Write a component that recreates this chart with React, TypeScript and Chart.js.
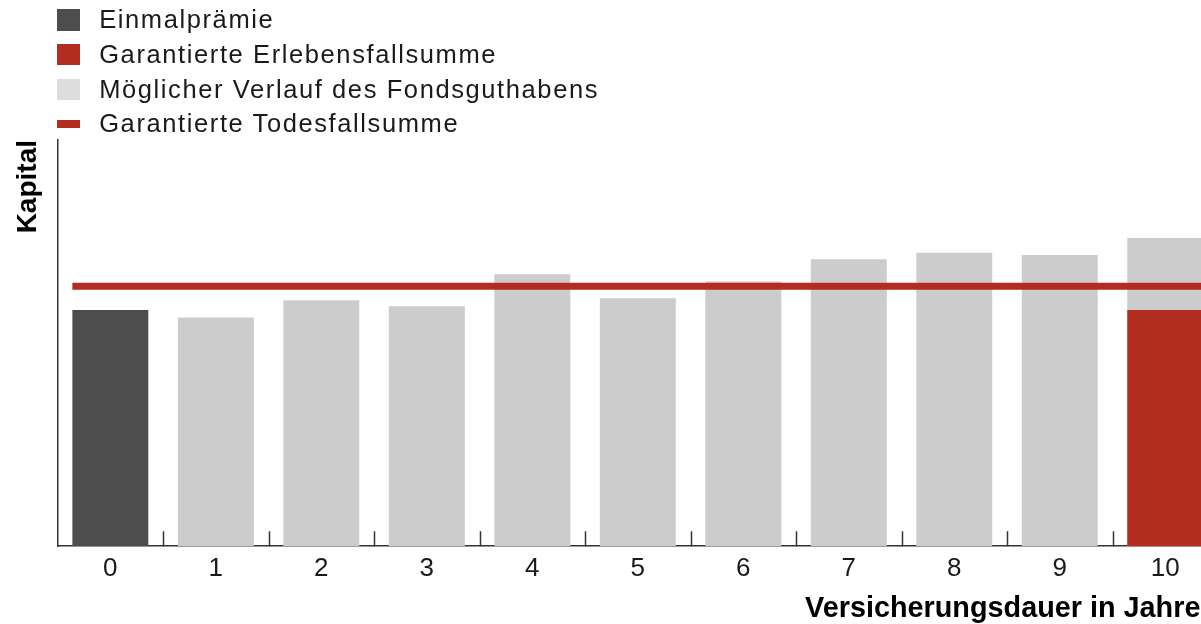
import React, { useEffect, useRef } from 'react';
import { Chart, registerables } from 'chart.js';

Chart.register(...registerables);

// ---- data ----
const years = ['0', '1', '2', '3', '4', '5', '6', '7', '8', '9', '10'];
const einmalpraemie = [100, null, null, null, null, null, null, null, null, null, null];
const erlebensfallsumme = [null, null, null, null, null, null, null, null, null, null, 100];
const fondsguthaben = [null, 96.9, 104.2, 101.6, 115.2, 105.0, 112.1, 121.5, 124.3, 123.3, 130.5];
const todesfallsumme = 110.1;
const yMax = 172;

const seriesLabels = [
  'Einmalprämie',
  'Garantierte Erlebensfallsumme',
  'Möglicher Verlauf des Fondsguthabens',
  'Garantierte Todesfallsumme',
];

// ---- styles ----
const DARK = '#4d4d4d';
const RED = '#b22d1f';
const GRAY = '#cccccc';
const GRAY_LEGEND = '#dddddd';
const AXIS = '#333333';
const TEXT = '#1a1a1a';
const FONT = '"Liberation Sans", Arial, Helvetica, sans-serif';
const BAR_PCT = 0.72;

const betweenTicks = {
  id: 'betweenTicks',
  afterDraw(chart: any) {
    const x = chart.scales.x;
    const y = chart.scales.y;
    const ctx = chart.ctx;
    const n = x.ticks.length;
    ctx.save();
    ctx.strokeStyle = AXIS;
    ctx.lineWidth = 1.5;
    for (let i = 0; i < n; i++) {
      const a = x.getPixelForTick(i);
      const b = i + 1 < n ? x.getPixelForTick(i + 1) : a + (a - x.getPixelForTick(i - 1));
      const px = Math.round((a + b) / 2) + 0.5;
      ctx.beginPath();
      ctx.moveTo(px, y.bottom);
      ctx.lineTo(px, y.bottom - 15);
      ctx.stroke();
    }
    ctx.restore();
  },
};

export default function App() {
  const ref = useRef<HTMLCanvasElement>(null);

  useEffect(() => {
    const half = BAR_PCT / 2;
    const chart = new Chart(ref.current as HTMLCanvasElement, {
      type: 'bar',
      data: {
        labels: years,
        datasets: [
          {
            type: 'line',
            label: seriesLabels[3],
            data: [
              { x: -half, y: todesfallsumme },
              { x: years.length - 1 + half, y: todesfallsumme },
            ],
            xAxisID: 'xl',
            borderColor: RED,
            backgroundColor: RED,
            borderWidth: 7,
            pointRadius: 0,
            order: 0,
          } as any,
          {
            label: seriesLabels[1],
            data: erlebensfallsumme,
            backgroundColor: RED,
            order: 1,
          },
          {
            label: seriesLabels[0],
            data: einmalpraemie,
            backgroundColor: DARK,
            order: 2,
          },
          {
            label: seriesLabels[2],
            data: fondsguthaben,
            backgroundColor: GRAY,
            order: 3,
          },
        ],
      },
      options: {
        responsive: false,
        animation: false,
        datasets: {
          bar: {
            grouped: false,
            barPercentage: BAR_PCT,
            categoryPercentage: 1,
          },
        },
        layout: { padding: { left: 7, top: 140, right: 6, bottom: -3 } },
        plugins: {
          legend: { display: false },
          tooltip: { enabled: false },
        },
        scales: {
          x: {
            type: 'category',
            offset: true,
            grid: { display: false, drawTicks: false },
            border: { display: true, color: AXIS, width: 1.5 },
            ticks: {
              color: TEXT,
              padding: 7,
              font: { family: FONT, size: 26 },
            },
            title: {
              display: true,
              text: 'Versicherungsdauer in Jahren',
              align: 'end',
              color: '#000',
              padding: { top: 0, bottom: 1 },
              font: { family: FONT, size: 28.8, weight: 'bold' },
            },
          },
          xl: {
            type: 'linear',
            display: false,
            offset: false,
            grid: { offset: false },
            min: -0.5,
            max: years.length - 0.5,
          },
          y: {
            min: 0,
            max: yMax,
            grid: { display: false, drawTicks: false },
            border: { display: true, color: AXIS, width: 1.5 },
            ticks: { display: false },
            title: {
              display: true,
              text: 'Kapital',
              align: 'end',
              color: '#000',
              padding: { top: 4, bottom: 13 },
              font: { family: FONT, size: 28, weight: 'bold' },
            },
          },
        },
      },
      plugins: [betweenTicks],
    });
    return () => chart.destroy();
  }, []);

  const legendRows = [
    { label: seriesLabels[0], color: DARK, line: false },
    { label: seriesLabels[1], color: RED, line: false },
    { label: seriesLabels[2], color: GRAY_LEGEND, line: false },
    { label: seriesLabels[3], color: RED, line: true },
  ];

  return (
    <div
      style={{
        position: 'fixed',
        left: 0,
        top: 0,
        width: 1201,
        height: 624,
        overflow: 'hidden',
        background: '#fff',
      }}
    >
      <canvas ref={ref} width={1224} height={624} style={{ display: 'block' }} />
      <div style={{ position: 'absolute', left: 57, top: 2.6 }}>
        {legendRows.map((r) => (
          <div
            key={r.label}
            style={{ display: 'flex', alignItems: 'center', height: 34.7 }}
          >
            <div
              style={{
                width: 22.7,
                height: r.line ? 8 : 21.3,
                background: r.color,
                marginRight: 19.5,
                flex: 'none',
              }}
            />
            <span
              style={{
                fontFamily: FONT,
                fontSize: 25.5,
                letterSpacing: '1.6px',
                color: TEXT,
                whiteSpace: 'nowrap',
                lineHeight: 1,
              }}
            >
              {r.label}
            </span>
          </div>
        ))}
      </div>
    </div>
  );
}
